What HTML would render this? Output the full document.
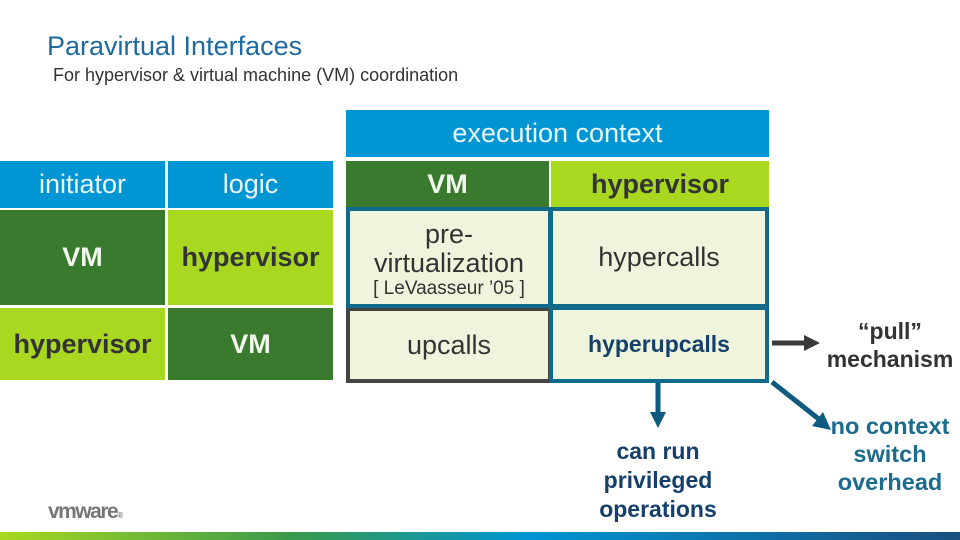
<!DOCTYPE html>
<html><head><style>
body{margin:0;width:960px;height:540px;background:#fff;position:relative;overflow:hidden;font-family:"Liberation Sans",Arial,sans-serif}
.a{position:absolute;box-sizing:border-box;display:flex;align-items:center;justify-content:center;text-align:center}
.bl{background:#0095d3;color:#eaf6fb;font-size:27px}
.dg{background:#3a7a2e;color:#f2f7ee;font-weight:bold;font-size:27px}
.lg{background:#a8d820;color:#333;font-weight:bold;font-size:27px}
.pc{background:#eef5dc;color:#333;font-size:27px}
</style></head><body>
<div style="position:absolute;left:47px;top:31px;font-size:27px;color:#1e6aa0">Paravirtual Interfaces</div>
<div style="position:absolute;left:53px;top:65px;font-size:18px;color:#333">For hypervisor &amp; virtual machine (VM) coordination</div>

<div class="a bl" style="left:346px;top:110px;width:423px;height:47px">execution context</div>

<div class="a bl" style="left:0;top:161px;width:165px;height:47px">initiator</div>
<div class="a bl" style="left:168px;top:161px;width:165px;height:47px">logic</div>
<div class="a dg" style="left:346px;top:161px;width:203px;height:47px">VM</div>
<div class="a lg" style="left:551px;top:161px;width:218px;height:47px">hypervisor</div>

<div class="a dg" style="left:0;top:210px;width:165px;height:95px">VM</div>
<div class="a lg" style="left:168px;top:210px;width:165px;height:95px">hypervisor</div>
<div class="a lg" style="left:0;top:308px;width:165px;height:72px">hypervisor</div>
<div class="a dg" style="left:168px;top:308px;width:165px;height:72px">VM</div>

<div class="a pc" style="left:346px;top:307px;width:206px;height:76px;border:4px solid #444">upcalls</div>
<div class="a pc" style="left:346px;top:207px;width:206px;height:101px;border:4px solid #0f6a8c;flex-direction:column;line-height:29px;padding-top:4px"><div>pre-<br>virtualization</div><div style="font-size:19px;line-height:22px">[ LeVaasseur ’05 ]</div></div>
<div class="a pc" style="left:549px;top:207px;width:220px;height:101px;border:4px solid #0f6a8c">hypercalls</div>
<div class="a pc" style="left:549px;top:306px;width:220px;height:77px;border:4px solid #0f6a8c;font-weight:bold;color:#16406a;font-size:23px">hyperupcalls</div>

<svg style="position:absolute;left:0;top:0" width="960" height="540">
<line x1="772" y1="343" x2="806" y2="343" stroke="#3a3a3a" stroke-width="5"/>
<polygon points="804,335 820,343 804,351" fill="#3a3a3a"/>
<line x1="658" y1="383" x2="658" y2="414" stroke="#0f5a80" stroke-width="5"/>
<polygon points="650,412 658,428 666,412" fill="#0f5a80"/>
<line x1="772" y1="382" x2="820" y2="420" stroke="#0f5a80" stroke-width="5"/>
<polygon points="812,426 831,430 823,412" fill="#0f5a80"/>
</svg>

<div style="position:absolute;left:815px;top:317px;width:150px;text-align:center;font-weight:bold;font-size:23px;color:#333;line-height:28px">“pull”<br>mechanism</div>
<div style="position:absolute;left:815px;top:412px;width:150px;text-align:center;font-weight:bold;font-size:23.5px;color:#1b6b8c;line-height:28px">no context<br>switch<br>overhead</div>
<div style="position:absolute;left:578px;top:437px;width:160px;text-align:center;font-weight:bold;font-size:23px;color:#16406a;line-height:29px">can run<br>privileged<br>operations</div>

<div style="position:absolute;left:48px;top:500px;font-size:21px;font-weight:bold;color:#777;letter-spacing:-1.5px">vmware<span style="font-size:8px">®</span></div>
<div style="position:absolute;left:0;top:532px;width:960px;height:8px;background:linear-gradient(90deg,#a8d820,#3a9a4a 30%,#0095d3 55%,#1a4f80 100%)"></div>
</body></html>
